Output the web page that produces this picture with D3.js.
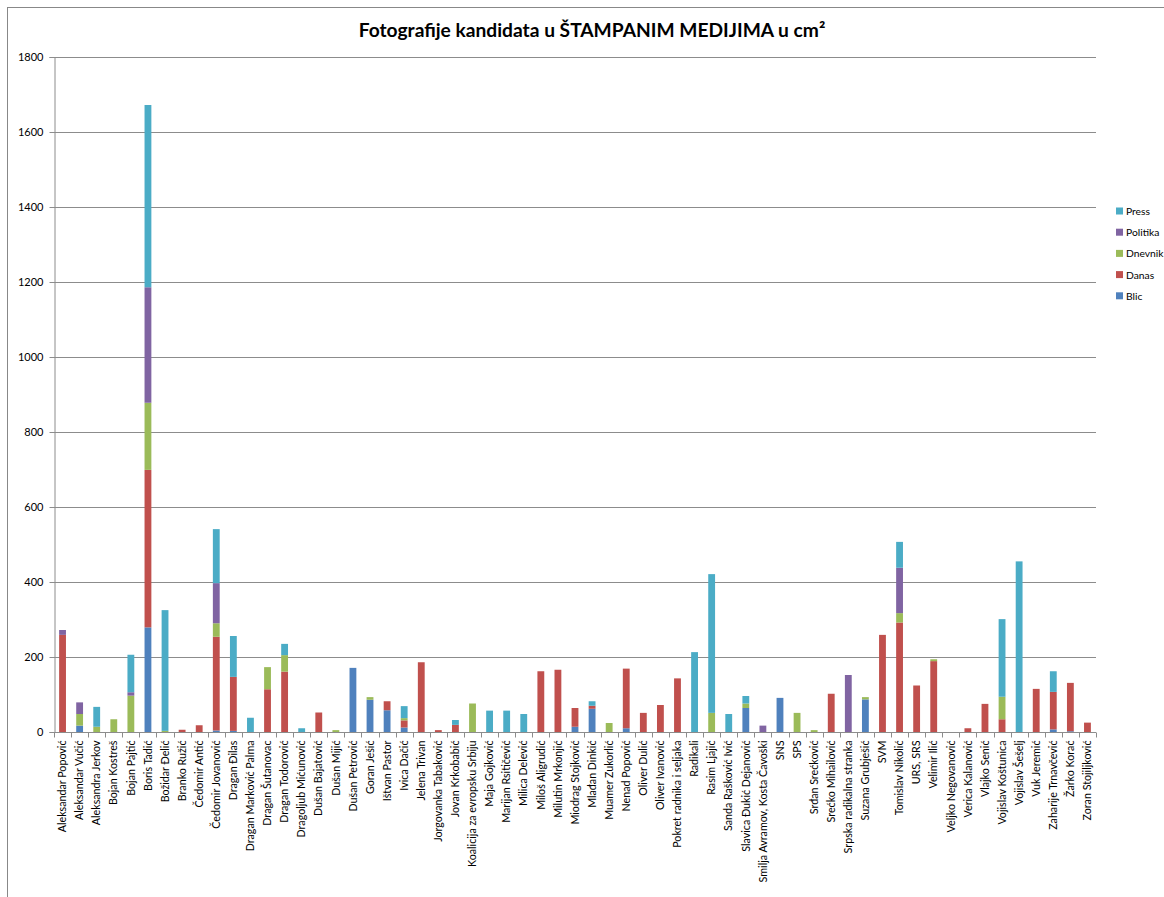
<!DOCTYPE html>
<html><head><meta charset="utf-8">
<script src="https://cdn.jsdelivr.net/npm/d3@7"></script>
<style>body{margin:0;background:#fff}svg{display:block}</style>
</head><body><svg id="c" width="1164" height="897"></svg>
<script>
const categories = ["Aleksandar Popović","Aleksandar Vučić","Aleksandra Jerkov","Bojan Kostreš","Bojan Pajtić","Boris Tadić","Božidar Đelić","Branko Ružić","Čedomir Antić","Čedomir Jovanović","Dragan Đilas","Dragan Marković Palma","Dragan Šutanovac","Dragan Todorović","Dragoljub Mićunović","Dušan Bajatović","Dušan Mijić","Dušan Petrović","Goran Ješić","Ištvan Pastor","Ivica Dačić","Jelena Trivan","Jorgovanka Tabaković","Jovan Krkobabić","Koalicija za evropsku Srbiju","Maja Gojković","Marijan Rsitičević","Milica Delević","Miloš Aligrudić","Milutin Mrkonjić","Miodrag Stojković","Mlađan Dinkić","Muamer Zukorlić","Nenad Popović","Oliver Dulić","Oliver Ivanović","Pokret radnika i seljaka","Radikali","Rasim Ljajić","Sanda Rašković Ivić","Slavica Đukić Dejanović","Smilja Avramov, Kosta Čavoški","SNS","SPS","Srđan Srećković","Srećko Mihailović","Srpska radikalna stranka","Suzana Grubješić","SVM","Tomislav Nikolić","URS, SRS","Velimir Ilić","Veljko Negovanović","Verica Kalanović","Vlajko Senić","Vojislav Koštunica","Vojislav Šešelj","Vuk Jeremić","Zaharije Trnavčević","Žarko Korać","Zoran Stojiljković"];
const blic     = [0,17,0,0,0,279,0,0,0,4,3,0,0,0,0,0,0,171,86,58,12,0,0,0,0,0,0,0,0,0,14,62,0,10,0,0,0,0,0,0,64,0,91,0,0,0,0,87,0,0,0,0,0,0,0,0,0,0,7,2,0];
const danas    = [259,0,0,0,0,420,0,6,18,250,144,0,114,161,0,52,0,0,0,24,19,186,5,19,0,0,0,0,162,166,50,8,0,159,51,72,143,0,0,0,0,0,0,0,0,102,0,0,259,292,124,189,0,10,75,34,0,115,100,129,25];
const dnevnik  = [0,31,14,34,97,179,3,0,0,36,0,0,59,44,0,0,5,0,7,0,6,0,0,0,76,0,0,0,0,0,0,0,24,0,0,0,0,0,51,0,12,0,0,51,5,0,0,6,0,25,0,5,0,0,0,60,0,0,0,0,0];
const politika = [13,31,0,0,9,308,0,0,0,107,0,0,0,0,0,0,0,0,0,0,0,0,0,0,0,0,0,0,0,0,0,0,0,0,0,0,0,0,0,0,0,17,0,0,0,0,152,0,0,121,0,0,0,0,0,0,0,0,0,0,0];
const press    = [0,0,53,0,100,486,322,0,0,144,109,38,0,30,10,0,0,0,0,0,32,0,0,13,0,57,57,48,0,0,0,12,0,0,0,0,0,213,370,48,20,0,0,0,0,0,0,0,0,69,0,0,0,0,0,207,455,0,55,0,0];
const seriesNames = ["Blic","Danas","Dnevnik","Politika","Press"];
const yTicks = [0,200,400,600,800,1000,1200,1400,1600,1800];
const titleText = "Fotografije kandidata u ŠTAMPANIM MEDIJIMA u cm²";

const colors = {Blic:"#4F81BD",Danas:"#C0504D",Dnevnik:"#9BBB59",Politika:"#8064A2",Press:"#4BACC6"};
const font = "Lato, 'Open Sans', sans-serif";
const svg = d3.select("#c");
const L = 54, R = 1096, T = 57, B = 732;

svg.append("rect").attr("x",7.5).attr("y",7.5).attr("width",1200).attr("height",1000)
  .attr("fill","#fff").attr("stroke","#888").attr("stroke-width",1);

const rows = categories.map((c,i)=>({cat:c,Blic:blic[i],Danas:danas[i],Dnevnik:dnevnik[i],Politika:politika[i],Press:press[i]}));
const stack = d3.stack().keys(seriesNames)(rows);

const x = d3.scaleBand().domain(categories).range([L,R]).paddingInner(0.6).paddingOuter(0.3);
const xb = d3.scaleBand().domain(categories).range([L,R]).padding(0);
const y = d3.scaleLinear().domain([0,1800]).range([B,T]);

// gridlines
svg.append("g").selectAll("line").data(yTicks.filter(d=>d>0)).join("line")
  .attr("x1",L).attr("x2",R).attr("y1",d=>Math.round(y(d))+0.5).attr("y2",d=>Math.round(y(d))+0.5)
  .attr("stroke","#8c8c8c").attr("stroke-width",1);

// bars
svg.append("g").selectAll("g").data(stack).join("g").attr("fill",d=>colors[d.key])
  .selectAll("rect").data(d=>d.filter(p=>p[1]-p[0]>0)).join("rect")
  .attr("x",d=>x(d.data.cat)).attr("width",x.bandwidth())
  .attr("y",d=>y(d[1])).attr("height",d=>y(d[0])-y(d[1]));

// y axis
const ya = svg.append("g").attr("transform",`translate(${L+0.5},0)`)
  .call(d3.axisLeft(y).tickValues(yTicks).tickSize(5).tickPadding(6).tickFormat(d3.format("d")));
ya.select(".domain").attr("stroke","#8c8c8c");
ya.selectAll(".tick line").attr("stroke","#8c8c8c");
ya.selectAll("text").attr("font-family",font).attr("font-size",11).attr("fill","#000");

// x axis
const xa = svg.append("g").attr("transform",`translate(0,${B+0.5})`);
xa.append("line").attr("x1",L).attr("x2",R).attr("stroke","#8c8c8c");
xa.selectAll("line.t").data(categories.concat(["__end"])).join("line").attr("class","t")
  .attr("x1",(d,i)=>i<categories.length?Math.round(xb(d))+0.5:R+0.5)
  .attr("x2",(d,i)=>i<categories.length?Math.round(xb(d))+0.5:R+0.5)
  .attr("y1",0).attr("y2",5).attr("stroke","#8c8c8c");
xa.selectAll("text").data(categories).join("text")
  .attr("transform",d=>`translate(${x(d)+x.bandwidth()/2+3.7},8) rotate(-90)`)
  .attr("text-anchor","end").attr("font-family",font).attr("font-size",10.7).attr("fill","#000")
  .text(d=>d);

// title
svg.append("text").attr("x",592).attr("y",37).attr("text-anchor","middle")
  .attr("font-family",font).attr("font-weight","bold").attr("font-size",19.2).attr("fill","#000")
  .text(titleText);

// legend (top series first)
const leg = svg.append("g");
const legOrder = seriesNames.slice().reverse();
leg.selectAll("g").data(legOrder).join("g")
  .attr("transform",(d,i)=>`translate(1116,${211+i*21.2})`)
  .each(function(d){
    const g = d3.select(this);
    g.append("rect").attr("x",0).attr("y",-3.5).attr("width",7).attr("height",7).attr("fill",colors[d]);
    g.append("text").attr("x",10).attr("y",4).attr("font-family",font).attr("font-size",10.3).attr("fill","#000").text(d);
  });
</script></body></html>
